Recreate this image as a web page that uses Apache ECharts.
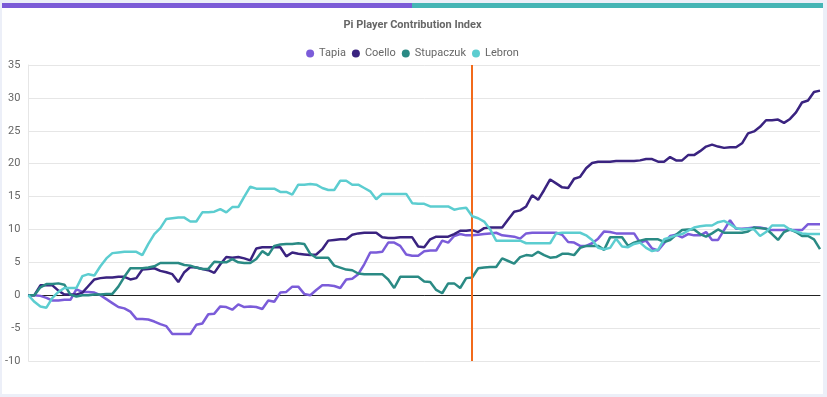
<!DOCTYPE html>
<html>
<head>
<meta charset="utf-8">
<script src="https://cdn.jsdelivr.net/npm/echarts@6/dist/echarts.min.js"></script>
<style>
  html, body { margin: 0; padding: 0; background: #eceff8; }
  #card { position: absolute; left: 2px; top: 3px; width: 821px; height: 391px; background: #fff; }
  #bar { height: 5px; display: flex; }
  #bar .a { width: 410px; background: #7b5bd7; }
  #bar .b { flex: 1; background: #45b5b5; }
  #chart { width: 821px; height: 386px; }
</style>
</head>
<body>
<div id="card">
  <div id="bar"><div class="a"></div><div class="b"></div></div>
  <div id="chart"></div>
</div>
<script>
// 133 games, marker at game 75
var games = [];
for (var g = 1; g <= 133; g++) games.push(String(g));
var markGame = '75';

var yTicks = [-10, -5, 0, 5, 10, 15, 20, 25, 30, 35];

var tapia = [0, 0, -0.1, -0.4, -0.8, -0.8, -0.7, -0.7, 0.9, 0.5, 0.5, 0.4, 0, -0.6, -1.2, -1.8, -2.0, -2.5, -3.6, -3.6,
  -3.7, -4.0, -4.4, -4.7, -5.9, -5.9, -5.9, -5.9, -4.5, -4.3, -2.9, -2.8, -1.7, -1.8, -2.2, -1.4, -1.8, -1.7, -1.8, -2.1,
  -0.8, -1.0, 0.4, 0.5, 1.3, 1.3, 0.2, 0, 0.8, 1.5, 1.5, 1.4, 1.1, 2.4, 2.5, 3.2, 4.7, 6.5, 6.5, 6.6,
  8.0, 8.0, 7.5, 6.2, 6.0, 6.0, 6.7, 6.8, 6.8, 8.3, 8.0, 9.0, 9.3, 9.1, 9.1, 9.2, 9.3, 9.4, 9.5, 9.1,
  9.0, 8.9, 8.6, 9.4, 9.5, 9.5, 9.5, 9.5, 9.5, 9.2, 8.1, 8.0, 7.5, 7.5, 7.9, 8.6, 9.7, 9.6, 9.4, 9.4,
  9.4, 9.4, 8.0, 8.3, 7.1, 6.8, 7.9, 9.0, 9.2, 8.8, 9.3, 9.1, 9.1, 9.6, 8.4, 8.4, 9.9, 11.4, 10.1, 10.1,
  10.2, 10.3, 10.3, 10.1, 9.9, 9.9, 9.9, 9.9, 9.9, 9.9, 10.8, 10.8, 10.8];

var coello = [0, 0, 1.5, 1.5, 1.5, 0.7, 0.1, 0.1, 0.1, 0.4, 1.4, 2.4, 2.6, 2.7, 2.7, 2.8, 2.8, 2.4, 2.6, 3.9,
  4.0, 4.1, 3.7, 3.5, 3.2, 2.0, 3.5, 4.3, 4.2, 4.0, 3.8, 3.4, 4.7, 5.8, 5.7, 5.8, 5.6, 5.3, 7.1, 7.3,
  7.3, 7.3, 7.3, 5.9, 6.5, 6.3, 6.2, 6.1, 6.2, 7.0, 8.3, 8.4, 8.5, 8.5, 9.2, 9.4, 9.5, 9.5, 9.5, 8.8,
  8.7, 8.7, 8.8, 8.8, 8.8, 7.4, 7.3, 8.5, 8.9, 8.9, 8.9, 9.3, 9.8, 9.8, 9.9, 9.6, 10.2, 10.3, 10.3, 10.3,
  11.5, 12.7, 12.9, 13.5, 15.2, 14.5, 16.0, 17.6, 17.0, 16.4, 16.3, 17.7, 18.0, 19.3, 20.1, 20.3, 20.3, 20.3, 20.4, 20.4,
  20.4, 20.4, 20.5, 20.7, 20.7, 20.3, 20.3, 21.0, 20.5, 20.5, 21.3, 21.3, 21.9, 22.6, 22.9, 22.6, 22.4, 22.5, 22.5, 23.1,
  24.6, 24.9, 25.6, 26.6, 26.6, 26.7, 26.2, 26.8, 27.8, 29.3, 29.6, 30.9, 31.1];

var stupaczuk = [0, 0, 1.2, 1.7, 1.7, 1.8, 1.6, 0.1, -0.2, 0, 0, 0.1, 0.1, 0.2, 0.2, 1.3, 2.8, 4.1, 4.1, 4.1,
  4.2, 4.4, 4.9, 4.9, 4.9, 4.9, 4.6, 4.5, 4.2, 4.0, 4.0, 5.1, 5.0, 5.0, 5.5, 5.0, 4.9, 4.9, 5.5, 6.7,
  6.1, 7.5, 7.7, 7.8, 7.8, 7.9, 7.8, 6.3, 5.7, 5.7, 5.7, 4.5, 4.2, 3.9, 3.8, 3.3, 3.2, 3.2, 3.2, 3.2,
  2.4, 1.1, 2.8, 2.8, 2.8, 2.8, 2.1, 2.0, 0.8, 0.3, 1.8, 1.8, 1.1, 2.6, 2.7, 4.1, 4.2, 4.3, 4.3, 5.6,
  5.2, 4.8, 5.8, 6.1, 6.0, 6.6, 6.1, 5.7, 5.8, 6.3, 6.3, 6.1, 7.2, 7.5, 7.5, 7.5, 6.9, 8.8, 8.8, 8.8,
  7.5, 8.0, 8.3, 8.5, 8.5, 8.5, 8.1, 8.4, 9.2, 9.9, 10.0, 10.0, 9.3, 8.9, 9.4, 10.0, 9.5, 9.5, 9.5, 9.5,
  9.7, 10.3, 10.2, 10.1, 9.3, 8.4, 9.6, 10.0, 9.6, 9.0, 9.0, 8.5, 7.0];

var lebron = [0, -1.0, -1.7, -1.9, -0.4, 0.5, 1.1, 1.1, 1.1, 2.9, 3.2, 3.0, 4.4, 5.6, 6.4, 6.5, 6.6, 6.6, 6.6, 6.1,
  7.8, 9.3, 10.2, 11.6, 11.7, 11.8, 11.8, 11.2, 11.2, 12.6, 12.6, 12.7, 13.1, 12.6, 13.4, 13.4, 15.0, 16.5, 16.2, 16.2,
  16.2, 16.2, 15.7, 15.7, 15.3, 16.8, 16.8, 16.9, 16.8, 16.3, 16.0, 16.0, 17.4, 17.4, 16.8, 16.8, 16.3, 15.8, 14.6, 15.4,
  15.4, 15.4, 15.4, 15.4, 14.0, 13.9, 13.9, 13.5, 13.5, 13.5, 13.5, 13.0, 13.2, 13.3, 12.0, 11.7, 11.2, 10.0, 8.3, 8.3,
  8.3, 8.3, 8.3, 7.9, 7.9, 7.9, 7.9, 7.9, 9.4, 9.5, 9.5, 9.5, 9.5, 9.1, 8.4, 7.2, 7.0, 7.2, 8.6, 7.4,
  7.3, 7.8, 8.0, 7.2, 6.7, 6.9, 8.5, 8.8, 9.1, 9.3, 9.8, 10.3, 10.5, 10.6, 10.6, 11.1, 11.3, 10.8, 10.2, 10.0,
  10.1, 10.0, 9.0, 9.6, 10.6, 10.6, 10.6, 10.0, 9.7, 9.4, 9.3, 9.3, 9.3];

var names = ['Tapia', 'Coello', 'Stupaczuk', 'Lebron'];
var colors = ['#7b5cd9', '#3a2380', '#2a8a84', '#5ccdd0'];
var values = [tapia, coello, stupaczuk, lebron];

var series = [];
for (var i = 0; i < names.length; i++) {
  series.push({
    name: names[i],
    type: 'line',
    data: values[i],
    showSymbol: false,
    symbol: 'circle',
    lineStyle: { width: 2.5 },
    z: 2 + i
  });
}
// vertical marker, drawn above the lines
series.push({
  name: 'marker',
  type: 'line',
  data: [],
  z: 10,
  markLine: {
    silent: true,
    symbol: 'none',
    label: { show: false },
    lineStyle: { color: '#f26a1b', width: 2, type: 'solid' },
    data: [{ xAxis: markGame }]
  }
});

var myChart = echarts.init(document.getElementById('chart'));
myChart.setOption({
  animation: false,
  color: colors,
  title: {
    text: 'Pi Player Contribution Index',
    left: 'center',
    top: 7,
    textStyle: { fontSize: 11, fontWeight: 'bold', color: '#666', fontFamily: 'Roboto, sans-serif' }
  },
  legend: {
    data: names,
    top: 35,
    icon: 'circle',
    itemWidth: 8,
    itemHeight: 8,
    itemGap: 6,
    textStyle: { fontSize: 11, color: '#666', fontFamily: 'Roboto, sans-serif' }
  },
  grid: { left: 26, right: 3, top: 57, bottom: 33, containLabel: false },
  xAxis: {
    type: 'category',
    boundaryGap: false,
    data: games,
    axisLine: { onZero: true, lineStyle: { color: '#222', width: 1 } },
    axisTick: { show: false },
    axisLabel: { show: false },
    splitLine: { show: false }
  },
  yAxis: {
    type: 'value',
    min: yTicks[0],
    max: yTicks[yTicks.length - 1],
    interval: 5,
    axisLine: { show: true, lineStyle: { color: '#e6e6e6' } },
    axisTick: { show: false },
    axisLabel: { color: '#666', fontSize: 11, margin: 8, fontFamily: 'Roboto, sans-serif' },
    splitLine: { lineStyle: { color: '#e6e6e6' } }
  },
  series: series
});
</script>
</body>
</html>
